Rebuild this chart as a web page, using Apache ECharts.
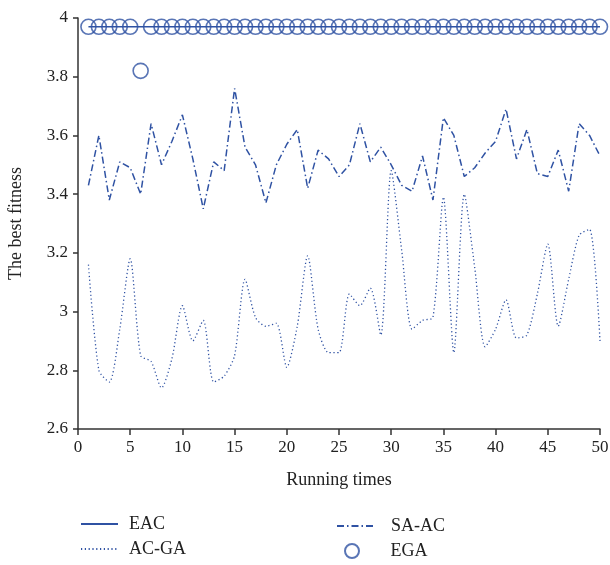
<!DOCTYPE html>
<html>
<head>
<meta charset="utf-8">
<script src="https://cdn.jsdelivr.net/npm/echarts@6/dist/echarts.min.js"></script>
<style>html,body{margin:0;padding:0;background:#fff}#c{width:610px;height:565px}</style>
</head>
<body>
<div id="c"></div>
<script>
const runs = Array.from({length: 50}, (_, i) => i + 1);
const eac = [3.97,3.97,3.97,3.97,3.97,3.97,3.97,3.97,3.97,3.97,3.97,3.97,3.97,3.97,3.97,3.97,3.97,3.97,3.97,3.97,3.97,3.97,3.97,3.97,3.97,3.97,3.97,3.97,3.97,3.97,3.97,3.97,3.97,3.97,3.97,3.97,3.97,3.97,3.97,3.97,3.97,3.97,3.97,3.97,3.97,3.97,3.97,3.97,3.97,3.97];
const saac = [3.43,3.60,3.38,3.51,3.49,3.40,3.64,3.50,3.58,3.67,3.52,3.35,3.51,3.48,3.76,3.56,3.50,3.37,3.50,3.57,3.62,3.42,3.55,3.52,3.46,3.50,3.64,3.51,3.56,3.50,3.43,3.41,3.53,3.38,3.66,3.60,3.46,3.49,3.54,3.58,3.69,3.52,3.62,3.47,3.46,3.55,3.41,3.64,3.60,3.53];
const acga = [3.16,2.80,2.76,2.94,3.18,2.85,2.83,2.74,2.84,3.02,2.90,2.97,2.76,2.78,2.85,3.11,2.98,2.95,2.96,2.81,2.95,3.19,2.94,2.86,2.86,3.06,3.02,3.08,2.92,3.48,3.21,2.94,2.97,2.98,3.39,2.86,3.40,3.15,2.88,2.94,3.04,2.91,2.92,3.06,3.23,2.95,3.11,3.26,3.28,2.90];
const ega = [3.97,3.97,3.97,3.97,3.97,3.82,3.97,3.97,3.97,3.97,3.97,3.97,3.97,3.97,3.97,3.97,3.97,3.97,3.97,3.97,3.97,3.97,3.97,3.97,3.97,3.97,3.97,3.97,3.97,3.97,3.97,3.97,3.97,3.97,3.97,3.97,3.97,3.97,3.97,3.97,3.97,3.97,3.97,3.97,3.97,3.97,3.97,3.97,3.97,3.97];
const xTicks = [0,5,10,15,20,25,30,35,40,45,50];
const yTicks = [2.6,2.8,3,3.2,3.4,3.6,3.8,4];

const C = '#2f52a3';
const font = 'Liberation Serif, DejaVu Serif, serif';
const pair = (ys) => runs.map((x, i) => [x, ys[i]]);

function leg(name, left, top, padLeft, hideSymbol) {
  const d = {name: name};
  if (hideSymbol) d.itemStyle = {opacity: 0};
  return {
    left: left, top: top, padding: 0, orient: 'horizontal', itemWidth: 37, itemHeight: 14,
    selectedMode: false,
    textStyle: {fontFamily: font, fontSize: 18, color: '#222', padding: [0,0,0,padLeft]},
    data: [d]
  };
}

const chart = echarts.init(document.getElementById('c'), null, {renderer: 'canvas'});
chart.setOption({
  animation: false,
  backgroundColor: '#fff',
  textStyle: {fontFamily: font},
  grid: {left: 78, right: 10, top: 18, bottom: 136, containLabel: false, outerBoundsMode: 'none'},
  xAxis: {
    type: 'value', min: xTicks[0], max: xTicks[xTicks.length-1], interval: 5,
    name: 'Running times', nameLocation: 'middle', nameGap: 42,
    nameTextStyle: {fontFamily: font, fontSize: 18, color: '#222'},
    axisLine: {show: true, onZero: false, lineStyle: {color: '#333', width: 1.5}},
    axisTick: {show: true, inside: false, length: 6, lineStyle: {color: '#333', width: 1.5}},
    axisLabel: {fontFamily: font, fontSize: 17, color: '#222', margin: 10},
    splitLine: {show: false}
  },
  yAxis: {
    type: 'value', min: yTicks[0], max: yTicks[yTicks.length-1], interval: 0.2,
    name: 'The best fitness', nameLocation: 'middle', nameGap: 53,
    nameTextStyle: {fontFamily: font, fontSize: 18, color: '#222'},
    axisLine: {show: true, onZero: false, lineStyle: {color: '#333', width: 1.5}},
    axisTick: {show: true, inside: false, length: 5, lineStyle: {color: '#333', width: 1.5}},
    axisLabel: {fontFamily: font, fontSize: 17, color: '#222', margin: 10,
      formatter: v => String(parseFloat(v.toFixed(1)))},
    splitLine: {show: false}
  },
  legend: [
    leg('EAC', 80, 515, 6, true),
    leg('AC-GA', 80, 540, 6, true),
    leg('SA-AC', 336, 517, 12, true),
    leg('EGA', 344, 542, 15, false)
  ],
  series: [
    {
      name: 'EAC', type: 'line', data: pair(eac), symbol: 'none',
      lineStyle: {color: C, width: 1.6}, itemStyle: {color: C}, z: 3
    },
    {
      name: 'AC-GA', type: 'line', data: pair(acga), symbol: 'none', smooth: 0.25,
      lineStyle: {color: C, width: 1.3, type: [1.2, 2.6]}, itemStyle: {color: C}
    },
    {
      name: 'SA-AC', type: 'line', data: pair(saac), symbol: 'none',
      lineStyle: {color: C, width: 1.5, type: [7, 3, 1.5, 3]}, itemStyle: {color: C}
    },
    {
      name: 'EGA', type: 'scatter', data: pair(ega), symbol: 'circle', symbolSize: 15,
      itemStyle: {color: 'rgba(255,255,255,0)', borderColor: C, borderWidth: 1.6}, z: 4
    }
  ]
});
</script>
</body>
</html>
